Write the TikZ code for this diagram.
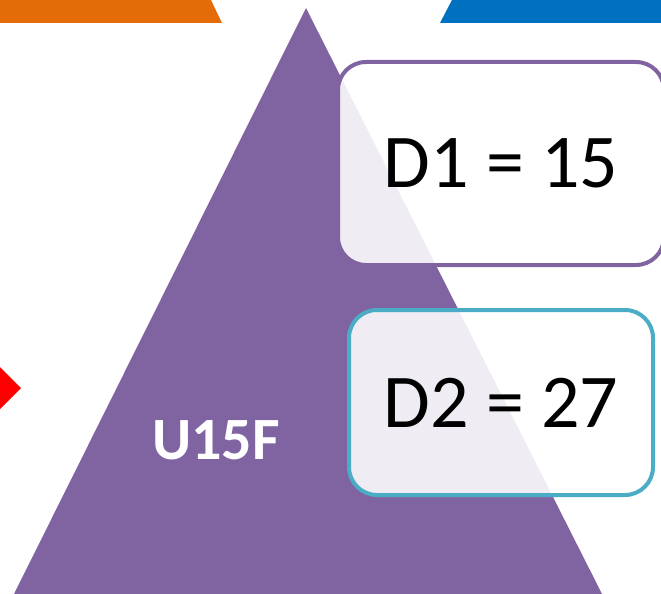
\documentclass[tikz,border=0pt]{standalone}
\usepackage{fontspec}
\setmainfont{Carlito}
\definecolor{uorange}{HTML}{E36C09}
\definecolor{ublue}{HTML}{0070C0}
\definecolor{upurple}{HTML}{8064A2}
\definecolor{uteal}{HTML}{4BACC6}
\tikzset{
  valbox/.style={draw, line width=4pt, rounded corners=28pt, fill=white,
    fill opacity=0.88, text opacity=1, inner sep=0pt,
    font=\fontsize{76}{80}\selectfont}
}
\begin{document}
\begin{tikzpicture}[x=1pt, y=-1pt]
\useasboundingbox (0,0) rectangle (661,594);

% tabs at the top
\fill [uorange] (-2,-2)--(210,-2)--(222,23)--(-2,23)--cycle;
\fill [ublue] (453,-2)--(663,-2)--(663,23)--(440,23)--cycle;

% red marker on the left
\fill [red] (0,367)--(21,388)--(0,409)--(-21,388)--cycle;

% the triangle
\fill [upurple] (306,8)--(602,594)--(14,594)--cycle;
\node (tri) [text=white, font=\fontsize{60}{64}\bfseries] at (216,440) {U15F};

% the two values
\node (d1) [valbox, draw=upurple, minimum width=326pt, minimum height=203pt] at (501,163.5) {D1 = 15};
\node (d2) [valbox, draw=uteal, minimum width=304pt, minimum height=185pt] at (501,402.5) {D2 = 27};

\end{tikzpicture}
\end{document}
